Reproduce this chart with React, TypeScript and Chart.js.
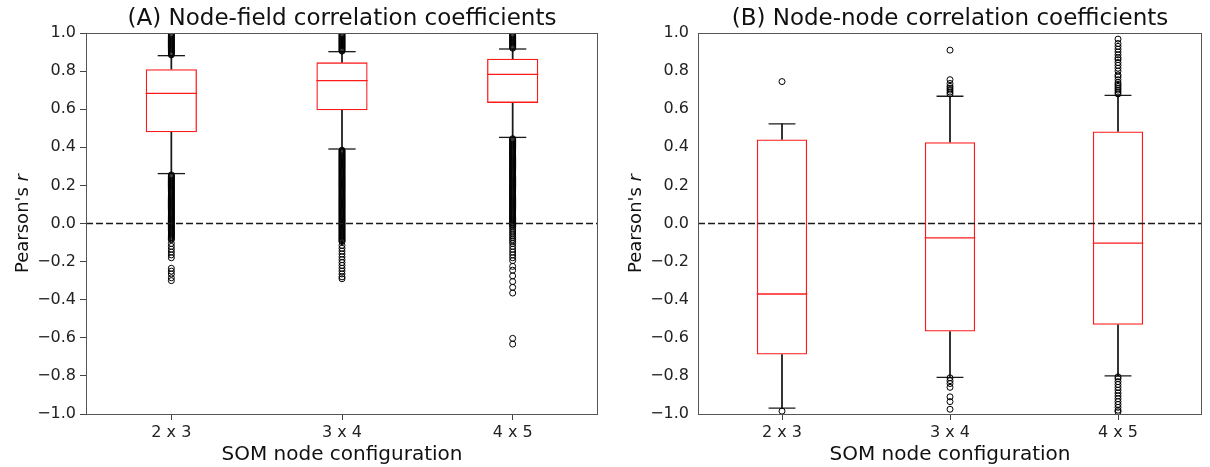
import React, { useEffect, useRef } from 'react';
import { Chart, registerables } from 'chart.js';

Chart.register(...registerables);

const categories = ['2 x 3', '3 x 4', '4 x 5'];
const xAxisTitle = 'SOM node configuration';
const yAxisTitle = "Pearson's ";
const yAxisTitleItalic = 'r';

// Panel A: node-field correlation coefficients
const titleA = '(A) Node-field correlation coefficients';
const aLowerWhisker = [0.262, 0.391, 0.452];
const aQ1 = [0.479, 0.594, 0.633];
const aMedian = [0.683, 0.75, 0.783];
const aQ3 = [0.81, 0.846, 0.865];
const aUpperWhisker = [0.881, 0.902, 0.916];
const aOutliers2x3 = [
  0.885, 0.89, 0.895, 0.9, 0.905, 0.91, 0.915, 0.92, 0.925, 0.93, 0.935, 0.94, 0.945,
  0.95, 0.955, 0.96, 0.965, 0.97, 0.975, 0.98, 0.985, 0.99, 0.995,
  0.255, 0.25, 0.245, 0.24, 0.235, 0.23, 0.225, 0.22, 0.215, 0.21, 0.205, 0.2, 0.195,
  0.19, 0.185, 0.18, 0.175, 0.17, 0.165, 0.16, 0.155, 0.15, 0.145, 0.14, 0.135, 0.13,
  0.125, 0.12, 0.115, 0.11, 0.105, 0.1, 0.095, 0.09, 0.085, 0.08, 0.075, 0.07, 0.065,
  0.06, 0.055, 0.05, 0.045, 0.04, 0.035, 0.03, 0.025, 0.02, 0.015, 0.01, 0.005, 0,
  -0.005, -0.01, -0.015, -0.02, -0.025, -0.03, -0.035, -0.04, -0.045, -0.05, -0.055,
  -0.06, -0.065, -0.07, -0.075, -0.08, -0.085,
  -0.105, -0.12, -0.135, -0.15, -0.165, -0.18, -0.235, -0.25, -0.265, -0.285, -0.3,
];
const aOutliers3x4 = [
  0.905, 0.91, 0.915, 0.92, 0.925, 0.93, 0.935, 0.94, 0.945, 0.95, 0.955, 0.96, 0.965,
  0.97, 0.975, 0.98, 0.985, 0.99, 0.995,
  0.385, 0.38, 0.375, 0.37, 0.365, 0.36, 0.355, 0.35, 0.345, 0.34, 0.335, 0.33, 0.325,
  0.32, 0.315, 0.31, 0.305, 0.3, 0.295, 0.29, 0.285, 0.28, 0.275, 0.27, 0.265, 0.26,
  0.255, 0.25, 0.245, 0.24, 0.235, 0.23, 0.225, 0.22, 0.215, 0.21, 0.205, 0.2, 0.195,
  0.19, 0.185, 0.18, 0.175, 0.17, 0.165, 0.16, 0.155, 0.15, 0.145, 0.14, 0.135, 0.13,
  0.125, 0.12, 0.115, 0.11, 0.105, 0.1, 0.095, 0.09, 0.085, 0.08, 0.075, 0.07, 0.065,
  0.06, 0.055, 0.05, 0.045, 0.04, 0.035, 0.03, 0.025, 0.02, 0.015, 0.01, 0.005, 0,
  -0.005, -0.01, -0.015, -0.02, -0.025, -0.03, -0.035, -0.04, -0.045, -0.05, -0.055,
  -0.06, -0.065, -0.07, -0.075, -0.08, -0.085, -0.09, -0.095,
  -0.115, -0.13, -0.145, -0.16, -0.175, -0.19, -0.205, -0.22, -0.235, -0.25, -0.265,
  -0.28, -0.29,
];
const aOutliers4x5 = [
  0.92, 0.925, 0.93, 0.935, 0.94, 0.945, 0.95, 0.955, 0.96, 0.965, 0.97, 0.975, 0.98,
  0.985, 0.99, 0.995,
  0.445, 0.44, 0.435, 0.43, 0.425, 0.42, 0.415, 0.41, 0.405, 0.4, 0.395, 0.39,
  0.385, 0.38, 0.375, 0.37, 0.365, 0.36, 0.355, 0.35, 0.345, 0.34, 0.335, 0.33, 0.325,
  0.32, 0.315, 0.31, 0.305, 0.3, 0.295, 0.29, 0.285, 0.28, 0.275, 0.27, 0.265, 0.26,
  0.255, 0.25, 0.245, 0.24, 0.235, 0.23, 0.225, 0.22, 0.215, 0.21, 0.205, 0.2, 0.195,
  0.19, 0.185, 0.18, 0.175, 0.17, 0.165, 0.16, 0.155, 0.15, 0.145, 0.14, 0.135, 0.13,
  0.125, 0.12, 0.115, 0.11, 0.105, 0.1, 0.095, 0.09, 0.085, 0.08, 0.075, 0.07, 0.065,
  0.06, 0.055, 0.05, 0.045, 0.04, 0.035, 0.03, 0.025, 0.02, 0.015, 0.01, 0.005, 0,
  -0.005, -0.01, -0.015,
  -0.025, -0.035, -0.045, -0.055, -0.065, -0.075, -0.085, -0.095, -0.105, -0.12,
  -0.135, -0.15, -0.165, -0.18, -0.195,
  -0.225, -0.245, -0.275, -0.305, -0.335, -0.365, -0.603, -0.633,
];

// Panel B: node-node correlation coefficients
const titleB = '(B) Node-node correlation coefficients';
const bLowerWhisker = [-0.969, -0.808, -0.8];
const bQ1 = [-0.688, -0.567, -0.532];
const bMedian = [-0.37, -0.075, -0.103];
const bQ3 = [0.441, 0.427, 0.483];
const bUpperWhisker = [0.523, 0.668, 0.673];
const bOutliers2x3 = [0.745, -0.985];
const bOutliers3x4 = [
  0.68, 0.69, 0.7, 0.71, 0.72, 0.735, 0.755, 0.91,
  -0.81, -0.825, -0.84, -0.86, -0.91, -0.935, -0.975,
];
const bOutliers4x5 = [
  0.68, 0.69, 0.7, 0.71, 0.72, 0.73, 0.74, 0.755, 0.77, 0.78, 0.8, 0.815, 0.83, 0.845,
  0.86, 0.87, 0.885, 0.9, 0.915, 0.93, 0.945, 0.968,
  -0.805, -0.815, -0.83, -0.845, -0.86, -0.875, -0.89, -0.905, -0.92, -0.935, -0.95,
  -0.965, -0.98, -0.988,
];

const FONT = '"DejaVu Sans", "Liberation Sans", sans-serif';
const RED = '#ff1a1a';
const INK = '#1a1a1a';

const decorPlugin = {
  id: 'decor',
  afterDatasetsDraw(chart: any) {
    const { ctx, chartArea } = chart;
    const { left, right, top, bottom } = chartArea;
    const y0 = chart.scales.y.getPixelForValue(0);
    ctx.save();
    ctx.setLineDash([7, 3]);
    ctx.lineWidth = 1.5;
    ctx.strokeStyle = INK;
    ctx.beginPath();
    ctx.moveTo(left, y0);
    ctx.lineTo(right, y0);
    ctx.stroke();
    ctx.setLineDash([]);
    ctx.lineWidth = 1;
    ctx.strokeStyle = '#555';
    ctx.strokeRect(left + 0.5, top + 0.5, right - left - 1, bottom - top);
    ctx.restore();
  },
  afterDraw(chart: any, _args: any, opts: any) {
    const { ctx, chartArea } = chart;
    const cx = (chartArea.left + chartArea.right) / 2;
    const cy = (chartArea.top + chartArea.bottom) / 2;
    ctx.save();
    ctx.fillStyle = '#111';
    ctx.textAlign = 'center';
    ctx.textBaseline = 'alphabetic';
    ctx.font = `23px ${FONT}`;
    ctx.fillText(opts.title, cx, 25);
    ctx.font = `20px ${FONT}`;
    ctx.fillText(xAxisTitle, cx, 460);
    // y axis title with italic r
    ctx.translate(opts.yTitleX, cy);
    ctx.rotate(-Math.PI / 2);
    ctx.textAlign = 'left';
    const normalFont = `18px ${FONT}`;
    const italicFont = `italic 18px ${FONT}`;
    ctx.font = normalFont;
    const w1 = ctx.measureText(yAxisTitle).width;
    ctx.font = italicFont;
    const w2 = ctx.measureText(yAxisTitleItalic).width;
    const start = -(w1 + w2) / 2;
    ctx.font = normalFont;
    ctx.fillText(yAxisTitle, start, 0);
    ctx.font = italicFont;
    ctx.fillText(yAxisTitleItalic, start + w1, 0);
    ctx.restore();
  },
};

type PanelProps = {
  title: string;
  lower: number[];
  q1: number[];
  median: number[];
  q3: number[];
  upper: number[];
  outliers: number[][];
  plotLeft: number;
  rightPad: number;
  yTitleX: number;
  yTickColor: string;
  yTickPadding: number;
};

function BoxPanel(p: PanelProps) {
  const ref = useRef<HTMLCanvasElement | null>(null);
  useEffect(() => {
    if (!ref.current) return;
    const catWidth = (chart: any) => chart.scales.x.width / categories.length;
    const capPoints = categories.flatMap((c, i) => [
      { x: c, y: p.lower[i] },
      { x: c, y: p.upper[i] },
    ]);
    const outlierPoints = categories.flatMap((c, i) => p.outliers[i].map((v) => ({ x: c, y: v })));
    const chart = new Chart(ref.current, {
      type: 'bar',
      data: {
        labels: categories,
        datasets: [
          {
            type: 'bar',
            label: 'lower whisker',
            data: categories.map((_, i) => [p.lower[i], p.q1[i]]),
            backgroundColor: INK,
            barThickness: 1.1,
            grouped: false,
            order: 6,
          } as any,
          {
            type: 'bar',
            label: 'upper whisker',
            data: categories.map((_, i) => [p.q3[i], p.upper[i]]),
            backgroundColor: INK,
            barThickness: 1.1,
            grouped: false,
            order: 5,
          } as any,
          {
            type: 'bar',
            label: 'box',
            data: categories.map((_, i) => [p.q1[i], p.q3[i]]),
            backgroundColor: 'rgba(255,255,255,0)',
            borderColor: RED,
            borderWidth: 1.3,
            borderSkipped: false,
            barPercentage: 0.3,
            categoryPercentage: 1,
            grouped: false,
            order: 4,
          } as any,
          {
            type: 'line',
            label: 'median',
            data: p.median,
            showLine: false,
            pointStyle: 'line',
            pointRadius: (ctx: any) => catWidth(ctx.chart) * 0.15,
            pointBorderColor: RED,
            pointBorderWidth: 1.3,
            order: 3,
          } as any,
          {
            type: 'line',
            label: 'caps',
            data: capPoints,
            showLine: false,
            pointStyle: 'line',
            pointRadius: (ctx: any) => catWidth(ctx.chart) * 0.08,
            pointBorderColor: INK,
            pointBorderWidth: 1.3,
            order: 2,
          } as any,
          {
            type: 'line',
            label: 'outliers',
            data: outlierPoints,
            showLine: false,
            pointStyle: 'circle',
            pointRadius: 3,
            pointBorderWidth: 1,
            pointBorderColor: '#000',
            pointBackgroundColor: 'rgba(0,0,0,0)',
            order: 1,
          } as any,
        ],
      },
      options: {
        responsive: false,
        animation: false,
        events: [],
        layout: { padding: { top: 33, right: p.rightPad, left: 0, bottom: 0 } },
        plugins: {
          legend: { display: false },
          tooltip: { enabled: false },
          decor: { title: p.title, yTitleX: p.yTitleX },
        } as any,
        scales: {
          x: {
            type: 'category',
            offset: true,
            grid: {
              display: true,
              offset: false,
              drawOnChartArea: false,
              drawTicks: true,
              tickLength: 6,
              color: '#444',
            },
            border: { display: false },
            ticks: {
              font: { family: FONT, size: 16 },
              color: '#222',
              padding: 3,
              maxRotation: 0,
            },
            afterFit: (s: any) => {
              s.height = 53;
            },
          },
          y: {
            type: 'linear',
            min: -1,
            max: 1,
            grid: {
              display: true,
              drawOnChartArea: false,
              drawTicks: true,
              tickLength: 6,
              color: p.yTickColor,
            },
            border: { display: false },
            ticks: {
              stepSize: 0.2,
              font: { family: FONT, size: 16 },
              color: '#222',
              padding: p.yTickPadding,
              callback: (v: any) => {
                const n = Number(v);
                const s = Math.abs(n) < 1e-9 ? '0.0' : n.toFixed(1);
                return s.replace('-', '\u2212');
              },
            },
            afterFit: (s: any) => {
              s.width = p.plotLeft;
            },
          },
        },
      } as any,
      plugins: [decorPlugin as any],
    });
    return () => chart.destroy();
  }, []);
  return <canvas ref={ref} width={605} height={467} style={{ display: 'block', width: 605, height: 467 }} />;
}

export default function App() {
  return (
    <div style={{ position: 'fixed', left: 0, top: 0, width: 1210, height: 467, background: '#fff', display: 'flex' }}>
      <BoxPanel
        title={titleA}
        lower={aLowerWhisker}
        q1={aQ1}
        median={aMedian}
        q3={aQ3}
        upper={aUpperWhisker}
        outliers={[aOutliers2x3, aOutliers3x4, aOutliers4x5]}
        plotLeft={86}
        rightPad={7}
        yTitleX={28}
        yTickColor="#444"
        yTickPadding={4}
      />
      <BoxPanel
        title={titleB}
        lower={bLowerWhisker}
        q1={bQ1}
        median={bMedian}
        q3={bQ3}
        upper={bUpperWhisker}
        outliers={[bOutliers2x3, bOutliers3x4, bOutliers4x5]}
        plotLeft={93}
        rightPad={8}
        yTitleX={36}
        yTickColor="rgba(0,0,0,0)"
        yTickPadding={3}
      />
    </div>
  );
}
